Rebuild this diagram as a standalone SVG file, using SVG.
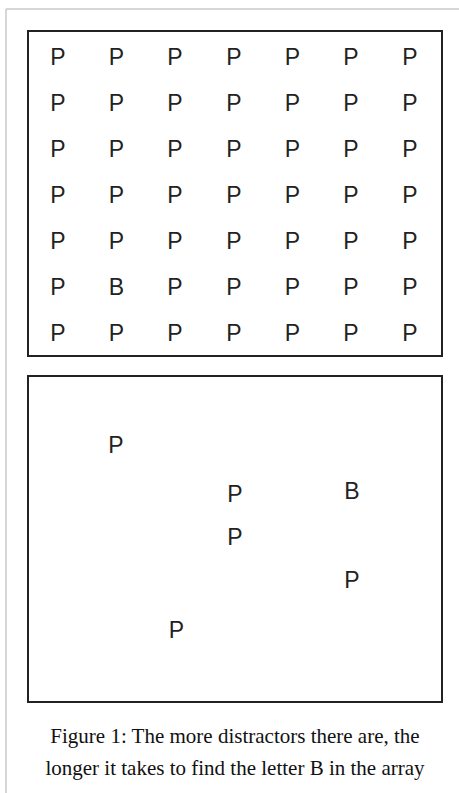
<svg xmlns="http://www.w3.org/2000/svg" width="459" height="793" viewBox="0 0 459 793">
<style>
.frame{stroke:#c8c8c8;stroke-width:1.5;fill:none}
.box{fill:#fff;stroke:#222;stroke-width:2}
.l{font-family:"Liberation Sans",Arial,sans-serif;font-size:23px;fill:#222;text-anchor:middle}
.cap{font-family:"Liberation Serif","Times New Roman",serif;font-size:21px;fill:#111;text-anchor:middle}
</style>
<rect width="459" height="793" fill="#fff"/>
<g id="frame">
<line class="frame" x1="6" y1="9" x2="459" y2="9"/>
<line class="frame" x1="6" y1="9" x2="6" y2="793"/>
</g>
<g id="array1">
<rect class="box" x="28" y="31" width="414" height="325"/>
<g class="l">
<text x="58" y="65">P</text><text x="116.5" y="65">P</text><text x="175" y="65">P</text><text x="234" y="65">P</text><text x="292.5" y="65">P</text><text x="351" y="65">P</text><text x="410" y="65">P</text>
<text x="58" y="111">P</text><text x="116.5" y="111">P</text><text x="175" y="111">P</text><text x="234" y="111">P</text><text x="292.5" y="111">P</text><text x="351" y="111">P</text><text x="410" y="111">P</text>
<text x="58" y="157">P</text><text x="116.5" y="157">P</text><text x="175" y="157">P</text><text x="234" y="157">P</text><text x="292.5" y="157">P</text><text x="351" y="157">P</text><text x="410" y="157">P</text>
<text x="58" y="203">P</text><text x="116.5" y="203">P</text><text x="175" y="203">P</text><text x="234" y="203">P</text><text x="292.5" y="203">P</text><text x="351" y="203">P</text><text x="410" y="203">P</text>
<text x="58" y="249">P</text><text x="116.5" y="249">P</text><text x="175" y="249">P</text><text x="234" y="249">P</text><text x="292.5" y="249">P</text><text x="351" y="249">P</text><text x="410" y="249">P</text>
<text x="58" y="295">P</text><text x="116.5" y="295">B</text><text x="175" y="295">P</text><text x="234" y="295">P</text><text x="292.5" y="295">P</text><text x="351" y="295">P</text><text x="410" y="295">P</text>
<text x="58" y="341">P</text><text x="116.5" y="341">P</text><text x="175" y="341">P</text><text x="234" y="341">P</text><text x="292.5" y="341">P</text><text x="351" y="341">P</text><text x="410" y="341">P</text>
</g>
</g>
<g id="array2">
<rect class="box" x="28" y="376" width="414" height="326"/>
<g class="l">
<text x="116" y="453">P</text>
<text x="235" y="502">P</text>
<text x="352" y="499">B</text>
<text x="235" y="545">P</text>
<text x="352" y="588">P</text>
<text x="176.5" y="638">P</text>
</g>
</g>
<g id="caption">
<text class="cap" x="235" y="743">Figure 1: The more distractors there are, the</text>
<text class="cap" x="235" y="775">longer it takes to find the letter B in the array</text>
</g>
</svg>
